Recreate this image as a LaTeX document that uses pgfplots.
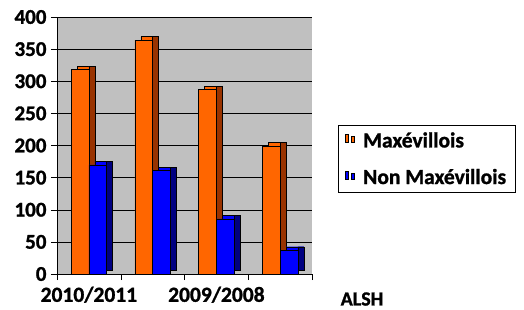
\documentclass[border=0pt]{standalone}
\usepackage{pgfplots}
\pgfplotsset{compat=1.18}
\usepackage{fontspec}
\setmainfont{Carlito}[BoldFeatures={FakeBold=1.2}]
\definecolor{orng}{HTML}{FF6600}
\definecolor{orngdk}{HTML}{993300}
\definecolor{blu}{HTML}{0000FF}
\definecolor{bludk}{HTML}{000080}
\definecolor{wall}{HTML}{C0C0C0}
\pgfplotstableread{
x  m    n
0  318  170
1  364  161
2  287  86
3  199  37
}\datatable
\begin{document}
\begin{tikzpicture}[x=1pt,y=1pt]
\useasboundingbox (0,0) rectangle (524,309);
\begin{axis}[
  at={(57pt,35pt)}, anchor=south west,
  scale only axis, width=255pt, height=257pt,
  xmin=-0.5, xmax=3.5, ymin=0, ymax=400,
  axis background/.style={fill=wall},
  axis line style={black, thin},
  axis x line*=bottom, axis y line*=left,
  ytick={0,50,...,400},
  ymajorgrids, grid style={black, thin},
  xtick={-0.5,0.5,1.5,2.5,3.5}, xticklabels={},
  extra x ticks={0,2}, extra x tick labels={2010/2011,2009/2008},
  extra x tick style={major tick length=0pt, xticklabel style={yshift=-12pt, inner sep=0.5pt, text depth=0pt, font=\fontsize{21.5}{23}\selectfont\bfseries}},
  tick align=outside, major tick length=6pt,
  tick style={black, thin},
  /pgf/number format/assume math mode=true,
  ticklabel style={font=\fontsize{21}{23}\selectfont\bfseries},
  yticklabel style={xshift=-1pt},
  legend style={at={(rel axis cs:1.102,0.580)}, anchor=north west,
    draw=black, thick, font=\fontsize{21.5}{23}\selectfont\bfseries,
    row sep=16pt, inner xsep=7pt, inner ysep=5pt, cells={anchor=west},
    /tikz/every odd column/.append style={column sep=6pt}},
  legend image code/.code={\draw[#1, draw=black, thin] (0pt,-4pt) rectangle (8pt,4pt);},
  ybar, bar width=17.7pt,
]
% orange: back copy (top face), side face, front
\addplot[forget plot, draw=black, fill=orng, bar shift=-8.9pt, xshift=6pt, yshift=3.5pt] table[x=x,y=m] {\datatable};
\addplot[forget plot, draw=black, fill=orngdk, bar width=6pt, bar shift=2.95pt, yshift=3.5pt] table[x=x,y=m] {\datatable};
\addplot[draw=black, fill=orng, bar shift=-8.9pt] table[x=x,y=m] {\datatable};
% blue
\addplot[forget plot, draw=black, fill=blu, bar shift=8.9pt, xshift=6pt, yshift=3.5pt] table[x=x,y=n] {\datatable};
\addplot[forget plot, draw=black, fill=bludk, bar width=6pt, bar shift=20.75pt, yshift=3.5pt] table[x=x,y=n] {\datatable};
\addplot[draw=black, fill=blu, bar shift=8.9pt] table[x=x,y=n] {\datatable};
\legend{Maxévillois, Non Maxévillois}
\end{axis}
\node[font=\fontsize{20}{22}\selectfont\bfseries] at (362,10) {ALSH};
\end{tikzpicture}
\end{document}
